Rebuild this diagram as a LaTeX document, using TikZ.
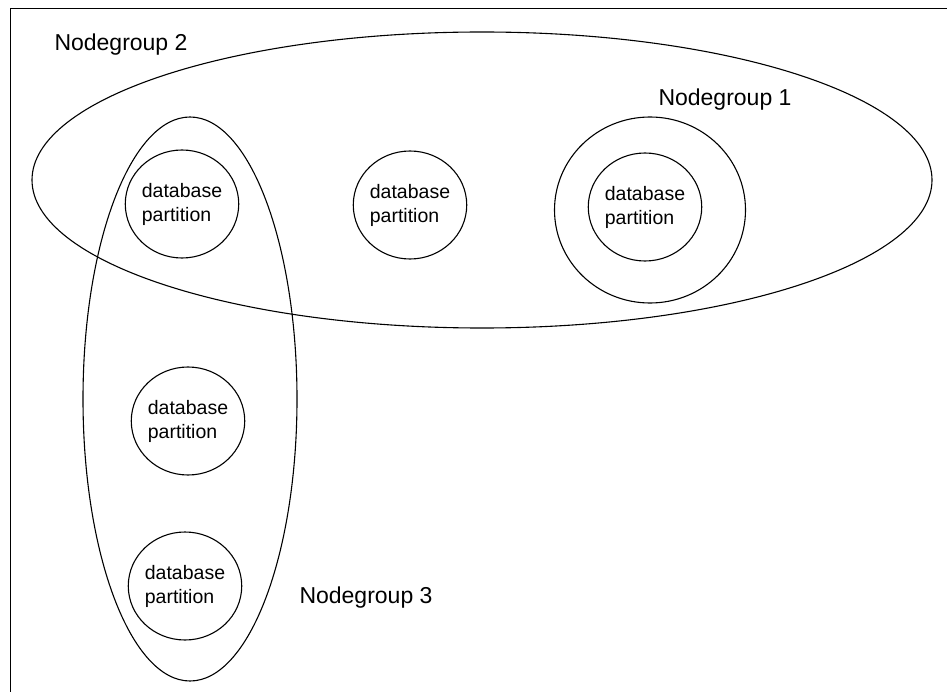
\documentclass[tikz,border=0pt]{standalone}
\usepackage{fontspec}
\setmainfont{Liberation Sans}
\usetikzlibrary{shapes.geometric}
\begin{document}
\begin{tikzpicture}[x=1pt,y=-1pt,
  grp/.style={draw=black, line width=1.1pt, ellipse, inner sep=0pt},
  part/.style={draw=black, line width=1.1pt, ellipse, inner sep=0pt,
    minimum width=112pt, minimum height=108pt, align=left,
    font=\fontsize{19.5}{24}\selectfont},
  lbl/.style={font=\fontsize{23}{27}\selectfont, inner sep=0pt}]
\useasboundingbox (0,0) rectangle (947,692);
\coordinate (tl) at (10,9);
\coordinate (tr) at (947,9);
\coordinate (bl) at (10,692);
\draw[line width=1pt] (tr) -- (tl) -- (bl);
\node[grp, minimum width=900pt, minimum height=296pt] (ng2) at (482,180) {};
\node[grp, minimum width=214pt, minimum height=564pt] (ng3) at (190,399) {};
\node[grp, minimum width=191pt, minimum height=186pt] (ng1) at (650,210) {};
\node[part] (p1) at (182,204) {database\\partition};
\node[part] (p2) at (410,205) {database\\partition};
\node[part] (p5) at (645,207) {database\\partition};
\node[part] (p3) at (188,421) {database\\partition};
\node[part] (p4) at (185,586) {database\\partition};
\node[lbl] (l2) at (121,45) {Nodegroup 2};
\node[lbl] (l1) at (725,100) {Nodegroup 1};
\node[lbl] (l3) at (366,598) {Nodegroup 3};
\end{tikzpicture}
\end{document}
